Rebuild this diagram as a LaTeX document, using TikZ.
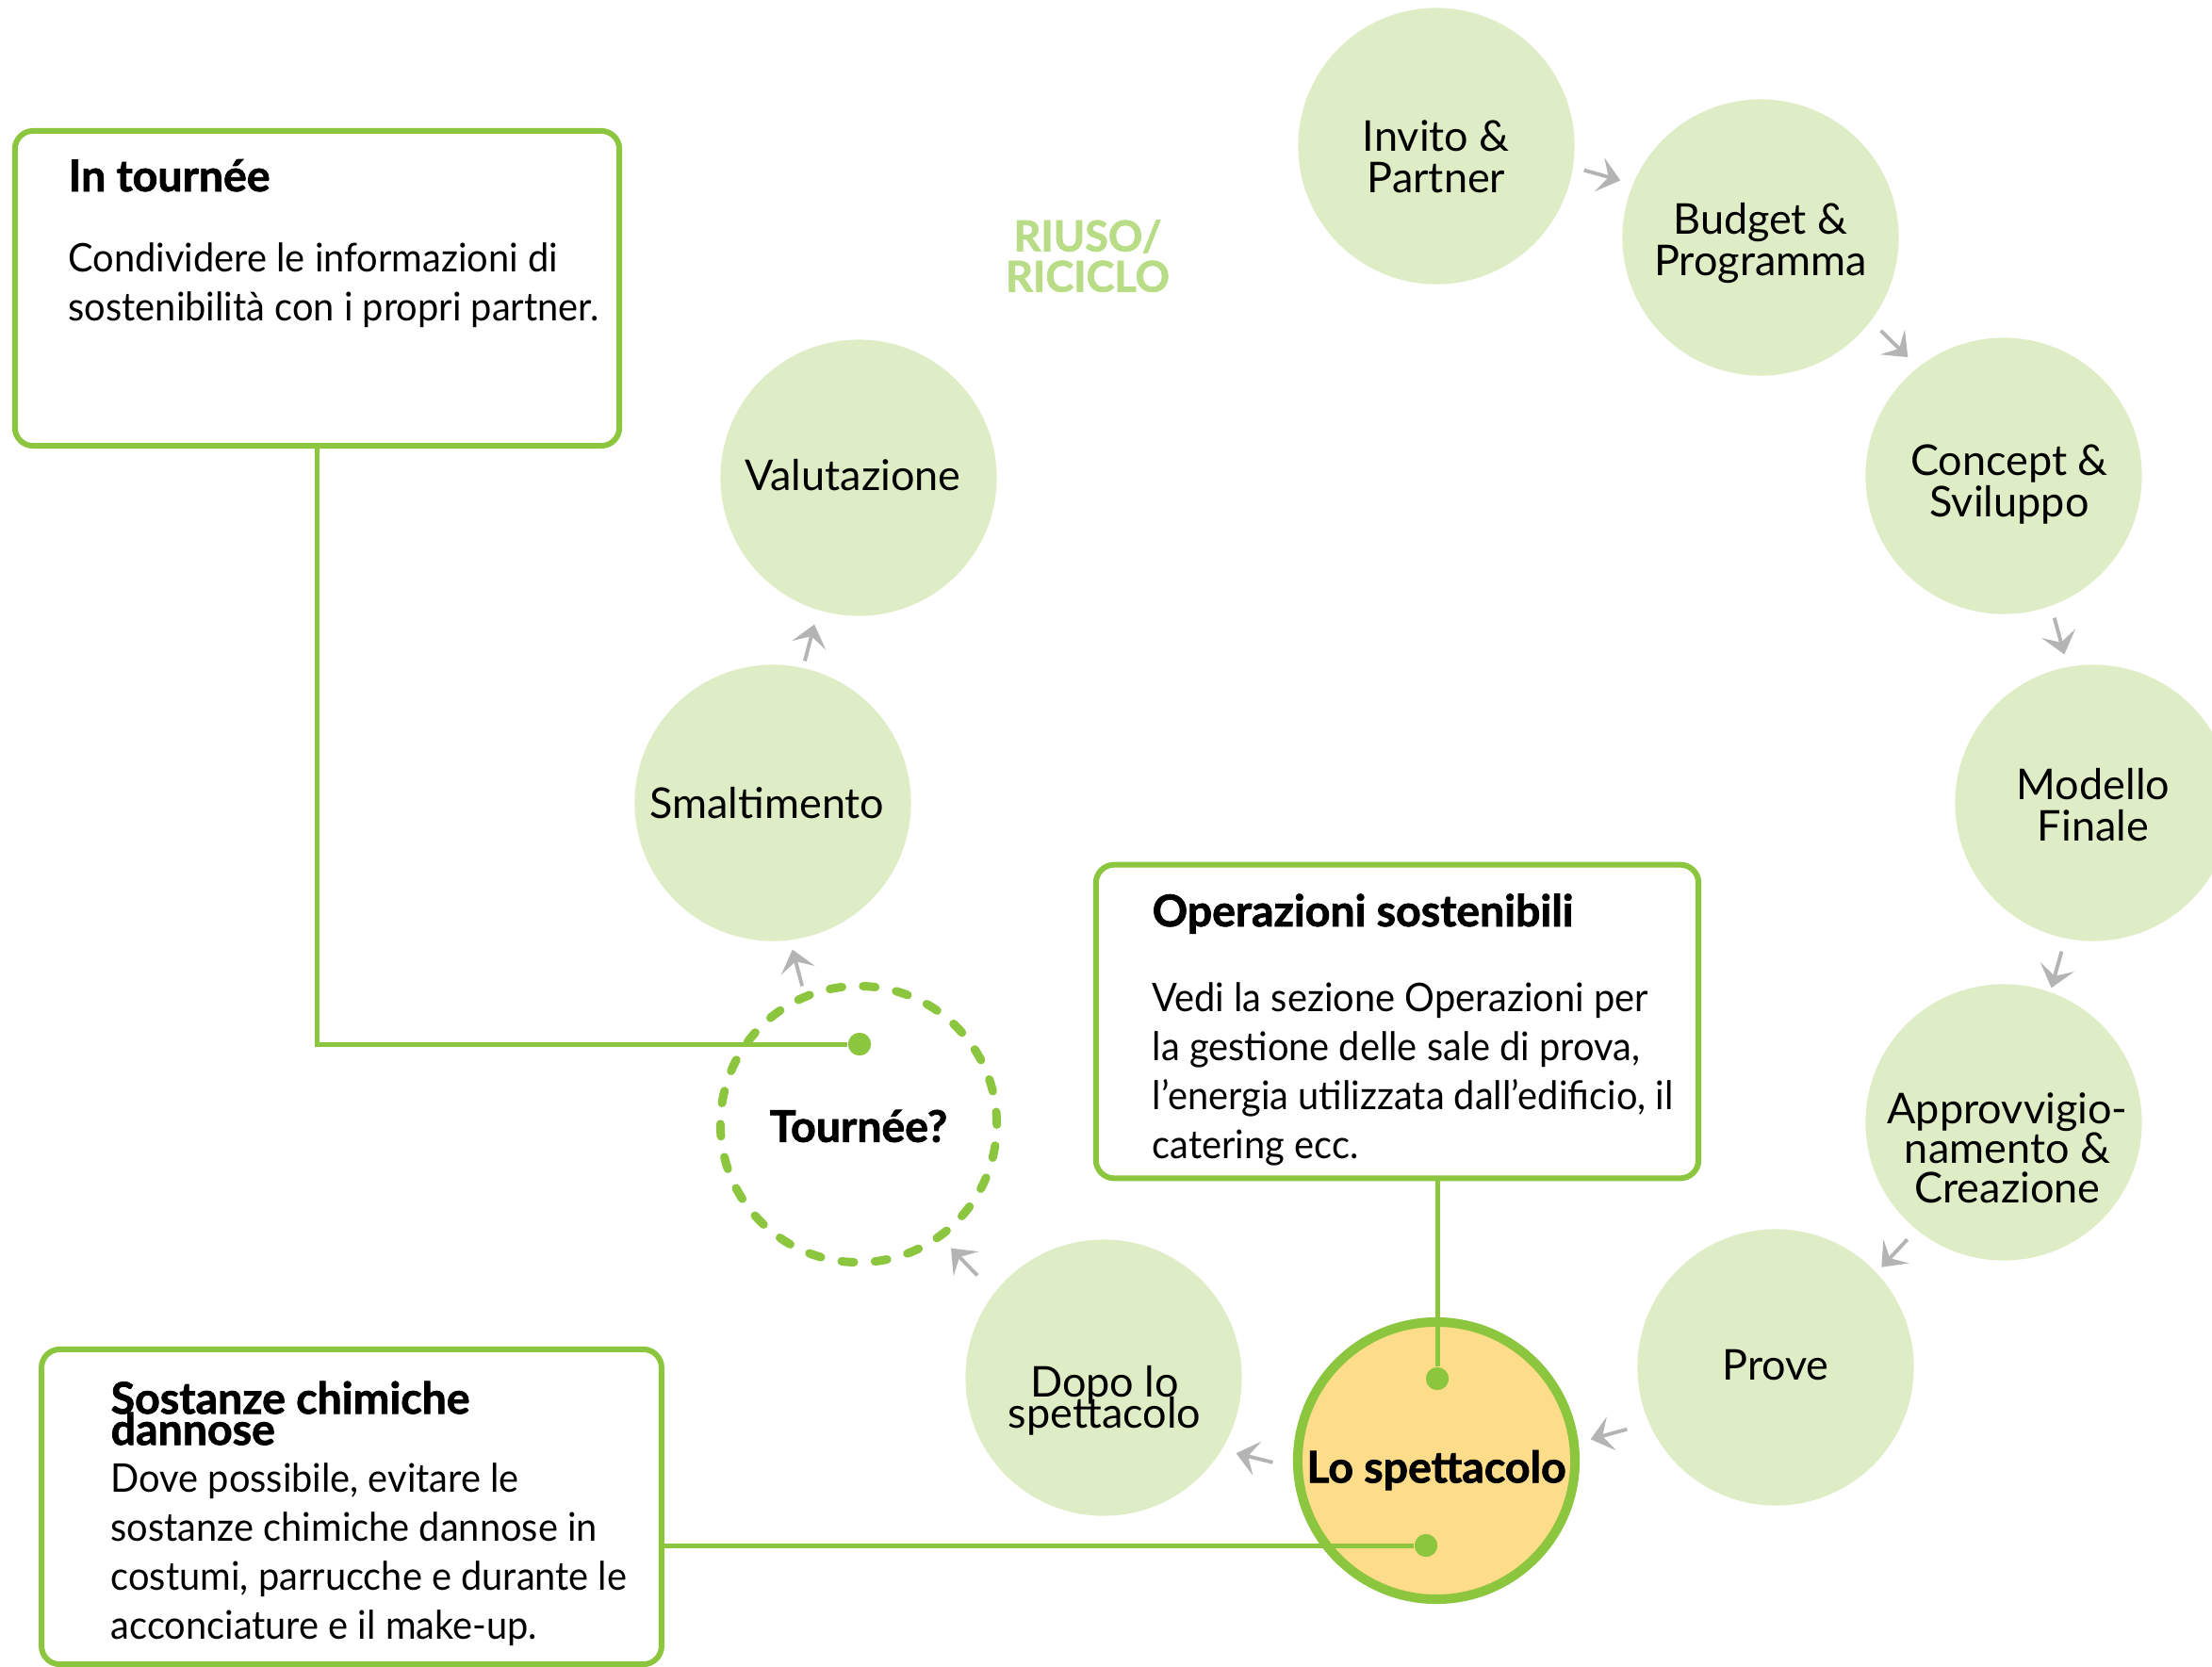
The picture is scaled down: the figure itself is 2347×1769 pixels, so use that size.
\documentclass[tikz,border=0pt]{standalone}
\usepackage{fontspec}
\setmainfont{Lato}[BoldFeatures={FakeBold=1.6}]
\newfontfamily\bodyfont{Lato}[FakeStretch=0.95]
\usetikzlibrary{calc,arrows.meta}
\definecolor{cfill}{RGB}{222,237,198}
\definecolor{gline}{RGB}{140,198,63}
\definecolor{yfill}{RGB}{253,220,138}
\definecolor{agray}{RGB}{180,180,180}
\definecolor{rtext}{RGB}{185,220,135}
\newcommand{\tightls}{\lineskiplimit=-20pt\relax}
\newcommand{\stagearrow}[3]{\draw[arr] ($(#1)!0.5!(#2)!-5.7pt!(#2)+#3$) -- ($(#1)!0.5!(#2)!5.7pt!(#2)+#3$);}
\begin{document}
\begin{tikzpicture}[x=0.01cm,y=-0.01cm,
  stage/.style={circle, fill=cfill, minimum size=2.93cm, inner sep=0pt, outer sep=0pt},
  ctext/.style={align=center, inner sep=0pt, font=\fontsize{12.8}{12.5}\selectfont\tightls},
  btext/.style={align=center, inner sep=0pt, font=\bfseries\fontsize{13.2}{12}\selectfont},
  infobox/.style={draw=gline, line width=1.7pt, rounded corners=5.5pt, fill=white, inner sep=0pt},
  ttl/.style={inner sep=0pt, font=\bfseries\fontsize{13.2}{9.4}\selectfont\tightls, align=left},
  body/.style={inner sep=0pt, font=\bodyfont\fontsize{11.9}{14.8}\selectfont, align=left},
  conn/.style={draw=gline, line width=1.42pt},
  dot/.style={circle, fill=gline, minimum size=0.24cm, inner sep=0pt},
  arr/.style={draw=agray, line width=1.1pt, -{Stealth[length=6.5pt,width=10.5pt,inset=2.8pt]}},
]
\fill[white] (0,0) rectangle (2347,1769);
\useasboundingbox (0,0) rectangle (2347,1769);

% stage circles
\node[stage] (inv) at (1524,155) {};
\node[stage] (bud) at (1868,252) {};
\node[stage] (con) at (2126,505) {};
\node[stage] (mod) at (2221,852) {};
\node[stage] (app) at (2126,1191) {};
\node[stage] (pro) at (1884,1451) {};
\node[circle, draw=gline, line width=2.85pt, fill=yfill, minimum size=2.94cm, inner sep=0pt] (spe) at (1524,1550) {};
\node[stage] (dop) at (1171,1462) {};
\node[circle, draw=gline, line width=2.56pt, dash pattern=on 3.7pt off 6.37pt, line cap=round, minimum size=2.93cm, inner sep=0pt] (tou) at (911,1193) {};
\node[stage] (sma) at (820,852) {};
\node[stage] (val) at (911,507) {};

% stage texts
\node[ctext] (t-inv) at (1524,166) {Invito \&\\Partner};
\node[ctext] (t-bud) at (1868,258) {Budget \&\\Programma};
\node[ctext] (t-con) at (2132,514) {Concept \&\\Sviluppo};
\node[ctext] (t-mod) at (2221,854) {Modello\\Finale};
\node[ctext, font=\fontsize{12.8}{12}\selectfont\tightls] (t-app) at (2130,1218) {Approvvigio-\\namento \&\\Creazione};
\node[ctext] (t-pro) at (1884,1449) {Prove};
\node[btext] (t-spe) at (1524,1560) {Lo spettacolo};
\node[ctext, font=\fontsize{12.8}{9.4}\selectfont\tightls] (t-dop) at (1172,1486) {Dopo lo\\spettacolo};
\node[btext] (t-tou) at (911,1195) {Tournée?};
\node[ctext] (t-sma) at (814,852) {Smaltimento};
\node[ctext] (t-val) at (905,504) {Valutazione};

% arrows between stages
\stagearrow{inv}{bud}{(4,-17.5)}
\stagearrow{bud}{con}{(13,-13.5)}
\stagearrow{con}{mod}{(11.5,-3.5)}
\stagearrow{mod}{app}{(8.5,7.5)}
\stagearrow{app}{pro}{(5,9)}
\stagearrow{pro}{spe}{(3,21.5)}
\stagearrow{spe}{dop}{(-16.5,41)}
\stagearrow{dop}{tou}{(-18,11.5)}
\stagearrow{tou}{sma}{(-19.5,4.5)}
\stagearrow{sma}{val}{(-6.5,2.5)}

% reuse label
\node[align=center, inner sep=0pt, text=rtext, font=\bfseries\fontsize{12.8}{12.2}\selectfont] (riuso) at (1154,271.5) {RIUSO/\\RICICLO};

% info boxes
\node[infobox, minimum width=6.41cm, minimum height=3.34cm] (b1) at (336.5,306) {};
\node[ttl, anchor=base west] (b1t) at (72,203) {In tournée};
\node[body, anchor=north west] (b1b) at (72,256.5) {Condividere le informazioni di\\sostenibilità con i propri partner.};

\node[infobox, minimum width=6.39cm, minimum height=3.325cm] (b2) at (1482.5,1084) {};
\node[ttl, anchor=base west] (b2t) at (1222,983) {Operazioni sostenibili};
\node[body, anchor=north west] (b2b) at (1222,1041.5) {Vedi la sezione Operazioni per\\la gestione delle sale di prova,\\l’energia utilizzata dall’edificio, il\\catering ecc.};

\node[infobox, minimum width=6.575cm, minimum height=3.34cm] (b3) at (373,1599) {};
\node[ttl, anchor=north west] (b3t) at (117,1465) {Sostanze chimiche\\dannose};
\node[body, anchor=north west] (b3b) at (117,1551.5) {Dove possibile, evitare le\\sostanze chimiche dannose in\\costumi, parrucche e durante le\\acconciature e il make-up.};

% connectors
\node[dot] (d1) at (912,1108) {};
\node[dot] (d2) at (1525,1463) {};
\node[dot] (d3) at (1513,1640) {};
\draw[conn] (b1.south) |- (d1);
\draw[conn] (d2 |- b2.south) -- (d2);
\draw[conn] (b3.east |- d3) -- (d3);
\node[dot] at (d1) {};
\node[dot] at (d2) {};
\node[dot] at (d3) {};
\end{tikzpicture}
\end{document}
